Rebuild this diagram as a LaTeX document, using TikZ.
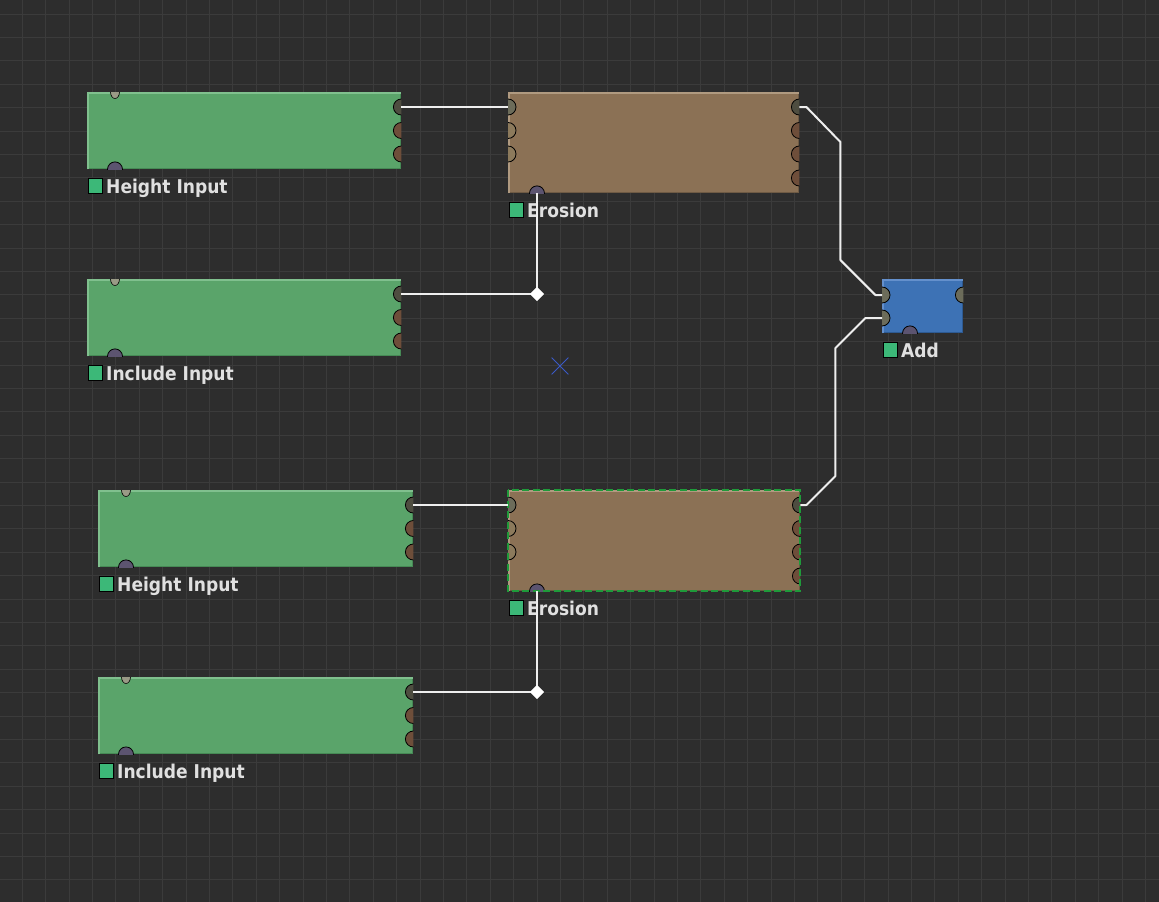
\documentclass[tikz,border=0pt]{standalone}
\usepackage{fontspec}
\newfontfamily\lblfont{DejaVu Sans}[FakeStretch=0.9]
\usetikzlibrary{positioning,calc,shapes.geometric,shapes.misc}
\definecolor{canvas}{HTML}{2D2D2D}
\definecolor{gridgray}{HTML}{3B3B3B}
\definecolor{inputgreen}{HTML}{5AA46A}
\definecolor{inputgreenhi}{HTML}{80C08E}
\definecolor{inputgreenlo}{HTML}{468A55}
\definecolor{erosionbrown}{HTML}{8B7155}
\definecolor{erosionbrownhi}{HTML}{B09A80}
\definecolor{erosionbrownlo}{HTML}{6E5A44}
\definecolor{addblue}{HTML}{3D72B5}
\definecolor{addbluehi}{HTML}{6490CC}
\definecolor{addbluelo}{HTML}{2D5A92}
\definecolor{tagGreen}{HTML}{3CB878}
\definecolor{wirewhite}{HTML}{EEEEEE}
\definecolor{portlink}{HTML}{4E4D40}
\definecolor{portfree}{HTML}{6E4E3A}
\definecolor{portin}{HTML}{8C7A5C}
\definecolor{portlinkin}{HTML}{6C6C5A}
\definecolor{portmask}{HTML}{5C5470}
\definecolor{portnub}{HTML}{9A9A86}
\definecolor{pickgreen}{HTML}{1F9A3A}
\definecolor{crossblue}{HTML}{3A5AC8}

\begin{document}
\begin{tikzpicture}[x=1pt,y=-1pt,
    box/.style={rectangle,inner sep=0pt,anchor=north west},
    input node/.style={box,fill=inputgreen,minimum width=314pt,minimum height=77pt},
    erosion node/.style={box,fill=erosionbrown,minimum width=291pt,minimum height=101pt},
    add node/.style={box,fill=addblue,minimum width=81pt,minimum height=54pt},
    tag/.style={rectangle,draw=black,line width=1pt,fill=tagGreen,minimum size=14.5pt,inner sep=0pt,anchor=north west},
    caption/.style={inner sep=0pt,text height=14pt,text depth=0pt,text=white!88!black,font=\lblfont\bfseries\fontsize{19}{19}\selectfont},
    port/.style={draw=black,line width=0.8pt},
    wire/.style={draw=wirewhite,line width=2pt,line join=bevel},
    knot/.style={diamond,fill=white,inner sep=0pt,minimum size=14pt}]
\useasboundingbox[fill=canvas] (0,0) rectangle (1159,902);
\foreach \gx in {22.3,45.7,...,1159} \draw[gridgray,line width=1pt] (\gx,0) -- (\gx,902);
\foreach \gy in {14,37.4,...,902} \draw[gridgray,line width=1pt] (0,\gy) -- (1159,\gy);

%Nodes
\node[input node] (H1) at (87,92) {};
\node[input node] (I1) at (87,279) {};
\node[input node, minimum width=315pt] (H2) at (98,490) {};
\node[input node, minimum width=315pt] (I2) at (98,677) {};
\node[erosion node] (E1) at (508,92) {};
\node[erosion node, minimum width=292pt] (E2) at (508,490) {};
\node[add node] (A) at (882,279) {};
\node[cross out,draw=crossblue,line width=0.8pt,minimum size=16pt,inner sep=0pt] (cursor) at (560,366) {};

%Bevels
\foreach \n/\hi/\lo in {H1/inputgreenhi/inputgreenlo,I1/inputgreenhi/inputgreenlo,
    H2/inputgreenhi/inputgreenlo,I2/inputgreenhi/inputgreenlo,
    E1/erosionbrownhi/erosionbrownlo,E2/erosionbrownhi/erosionbrownlo,A/addbluehi/addbluelo}{
  \draw[\lo,line width=1.5pt] ($(\n.north east)+(-0.75,0)$) -- ($(\n.south east)+(-0.75,-0.75)$) -- ($(\n.south west)+(0,-0.75)$);
  \draw[\hi,line width=1.5pt] ($(\n.south west)+(0.75,0)$) -- ($(\n.north west)+(0.75,0.75)$) -- ($(\n.north east)+(0,0.75)$);
}

%Ports
\foreach \n in {H1,I1,H2,I2}{
  \foreach \i/\dy in {1/15,2/38.5,3/62}
    \coordinate (\n-o\i) at ($(\n.north east)+(0,\dy)$);
  \coordinate (\n-top) at ($(\n.north west)+(28,0)$);
  \coordinate (\n-bot) at ($(\n.south west)+(28,0)$);
  \begin{scope}
    \clip (\n.north west) rectangle (\n.south east);
    \filldraw[port,fill=portlink] (\n-o1) circle (8pt);
    \filldraw[port,fill=portfree] (\n-o2) circle (8pt) (\n-o3) circle (8pt);
    \filldraw[port,fill=portmask] (\n-bot) circle (7.5pt);
    \filldraw[port,fill=portnub,line width=0.6pt] (\n-top) ellipse (4.5pt and 6.5pt);
  \end{scope}
}
\foreach \n in {E1,E2}{
  \foreach \i/\dy in {1/15,2/38.5,3/62}
    \coordinate (\n-i\i) at ($(\n.north west)+(0,\dy)$);
  \foreach \i/\dy in {1/15,2/38.5,3/62,4/86}
    \coordinate (\n-o\i) at ($(\n.north east)+(0,\dy)$);
  \coordinate (\n-bot) at ($(\n.south west)+(29,0)$);
  \begin{scope}
    \clip (\n.north west) rectangle (\n.south east);
    \filldraw[port,fill=portlinkin] (\n-i1) circle (8pt);
    \filldraw[port,fill=portin] (\n-i2) circle (8pt) (\n-i3) circle (8pt);
    \filldraw[port,fill=portlink] (\n-o1) circle (8pt);
    \filldraw[port,fill=portfree] (\n-o2) circle (8pt) (\n-o3) circle (8pt) (\n-o4) circle (8pt);
    \filldraw[port,fill=portmask] (\n-bot) circle (7.5pt);
  \end{scope}
}
\coordinate (A-i1) at ($(A.north west)+(0,16)$);
\coordinate (A-i2) at ($(A.north west)+(0,39)$);
\coordinate (A-o1) at ($(A.north east)+(0,16)$);
\coordinate (A-bot) at ($(A.south west)+(28,0)$);
\begin{scope}
  \clip (A.north west) rectangle (A.south east);
  \filldraw[port,fill=portlinkin] (A-i1) circle (8pt) (A-i2) circle (8pt) (A-o1) circle (8pt);
  \filldraw[port,fill=portmask] (A-bot) circle (7.5pt);
\end{scope}

%Selection
\draw[pickgreen,line width=2pt,dash pattern=on 7pt off 3.5pt] (E2.north west) rectangle (E2.south east);

%Captions
\foreach \n/\txt in {H1/Height Input,I1/Include Input,H2/Height Input,I2/Include Input,E1/Erosion,E2/Erosion,A/Add}{
  \node[tag] (\n-tag) at ($(\n.south west)+(0.5,9)$) {};
  \node[caption,right=3pt of \n-tag] (\n-cap) {\txt};
}

%Wires
\node[knot] (K1) at (I1-o1 -| E1-bot) {};
\node[knot] (K2) at (I2-o1 -| E2-bot) {};
\draw[wire] (H1-o1) -- (E1-i1);
\draw[wire] (H2-o1) -- (E2-i1);
\draw[wire] (I1-o1) -- (K1.center) -- (E1-bot);
\draw[wire] (I2-o1) -- (K2.center) -- (E2-bot);
\draw[wire] (E1-o1) -- ++(7,0) -- ++(34,35) -- ++(0,118) -- ++(35,35) -- (A-i1);
\draw[wire] (E2-o1) -- ++(6,0) -- ++(29,-29) -- ++(0,-128) -- ++(30,-30) -- (A-i2);
\node[knot] at (K1) {};
\node[knot] at (K2) {};
\end{tikzpicture}
\end{document}
